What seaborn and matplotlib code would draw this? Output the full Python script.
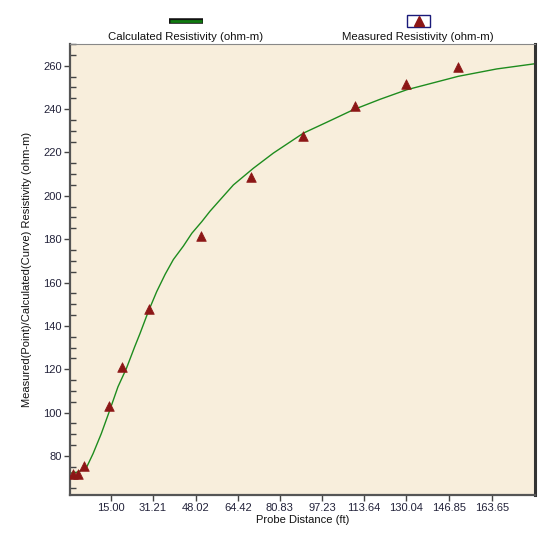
import numpy as np
import pandas as pd
import matplotlib
matplotlib.use('Agg')
import matplotlib.pyplot as plt
import seaborn as sns
from matplotlib.lines import Line2D
from matplotlib.patches import Rectangle
from matplotlib.ticker import MultipleLocator, FixedLocator

# measured points (probe distance ft, resistivity ohm-m)
meas_x = [0.3, 2.3, 4.3, 14.4, 19.4, 29.8, 50.1, 69.7, 89.9, 110.1, 130.1, 150.3]
meas_y = [71.5, 71.5, 75.2, 103.0, 121.0, 147.7, 181.5, 208.7, 227.6, 241.5, 251.7, 259.6]

# calculated curve
curve_x = [-0.7, 2.1, 5.4, 8.0, 11.2, 14.5, 17.7, 21.0, 24.2, 26.3, 29.5, 32.8, 36.1, 39.3,
           43.2, 46.5, 50.4, 53.6, 57.5, 62.7, 70.5, 78.3, 90.0, 99.1, 109.5, 119.9, 130.3,
           150.4, 165.4, 180.3]
curve_y = [72.1, 72.6, 74.6, 81.1, 90.3, 101.1, 111.9, 120.4, 130.3, 136.5, 146.5, 155.8, 163.8, 170.6,
           176.8, 182.7, 188.1, 192.9, 198.1, 205.0, 212.7, 219.7, 228.9, 233.9, 239.7, 244.5, 248.9,
           255.1, 258.5, 260.9]

x_ticks = [15.00, 31.21, 48.02, 64.42, 80.83, 97.23, 113.64, 130.04, 146.85, 163.65]
x_ticklabels = ['15.00', '31.21', '48.02', '64.42', '80.83', '97.23', '113.64', '130.04', '146.85', '163.65']
y_ticks = [80, 100, 120, 140, 160, 180, 200, 220, 240, 260]

sns.set_style('ticks')
plt.rcParams['font.family'] = ['Liberation Sans', 'DejaVu Sans']
plt.rcParams['font.size'] = 8

green = '#1E8C1E'
red = '#8C1616'
txt = '#22223A'

fig = plt.figure(figsize=(5.48, 5.34), dpi=100)
ax = fig.add_axes([70 / 548, 1 - 495 / 534, 465 / 548, (495 - 44) / 534])
ax.set_facecolor('#F8EEDC')

df_curve = pd.DataFrame({'x': curve_x, 'y': curve_y})
df_meas = pd.DataFrame({'x': meas_x, 'y': meas_y})

sns.lineplot(data=df_curve, x='x', y='y', ax=ax, color=green, linewidth=1.0, sort=False)
sns.scatterplot(data=df_meas, x='x', y='y', ax=ax, marker='^', s=48, color=red,
                edgecolor=red, linewidth=0.5, zorder=3)

ax.set_xlim(-1, 180.3)
ax.set_ylim(62, 270)

ax.xaxis.set_major_locator(FixedLocator(x_ticks))
ax.set_xticklabels(x_ticklabels)
ax.yaxis.set_major_locator(FixedLocator(y_ticks))
ax.yaxis.set_minor_locator(MultipleLocator(5))
ax.tick_params(axis='both', which='major', direction='out', length=4, width=1,
               color='#444444', labelcolor=txt, labelsize=8, pad=2)
ax.tick_params(axis='y', which='minor', direction='in', length=4, width=1, color='#444444')

ax.set_xlabel('Probe Distance (ft)', fontsize=8, color='#111111', labelpad=1)
ax.set_ylabel('Measured(Point)/Calculated(Curve) Resistivity (ohm-m)', fontsize=8,
              color='#111111', labelpad=8)

for side in ['left', 'bottom']:
    ax.spines[side].set_color('#555555')
    ax.spines[side].set_linewidth(1.6)
ax.spines['top'].set_color('#888888')
ax.spines['top'].set_linewidth(0.8)
ax.spines['right'].set_color('#333333')
ax.spines['right'].set_linewidth(2.2)

# legend above the plot, marker over text
fig.add_artist(Line2D([0.3084, 0.3704], [0.961, 0.961], transform=fig.transFigure,
                      color='#111111', linewidth=4, solid_capstyle='butt'))
fig.add_artist(Line2D([0.3100, 0.3688], [0.961, 0.961], transform=fig.transFigure,
                      color='#0F7A0F', linewidth=2, solid_capstyle='butt'))
fig.text(0.339, 0.9316, 'Calculated Resistivity (ohm-m)', ha='center', va='center',
         fontsize=8.2, color='#111111')

fig.add_artist(Rectangle((0.7427, 0.9494), 0.042, 0.0225, transform=fig.transFigure,
                         facecolor='white', edgecolor='#1A1A7A', linewidth=1))
fig.add_artist(Line2D([0.7637], [0.9600], transform=fig.transFigure, marker='^',
                      markersize=7, color=red, linestyle='none'))
fig.text(0.7628, 0.9316, 'Measured Resistivity (ohm-m)', ha='center', va='center',
         fontsize=8.2, color='#111111')

fig.savefig('out.png', dpi=100, facecolor='white')
